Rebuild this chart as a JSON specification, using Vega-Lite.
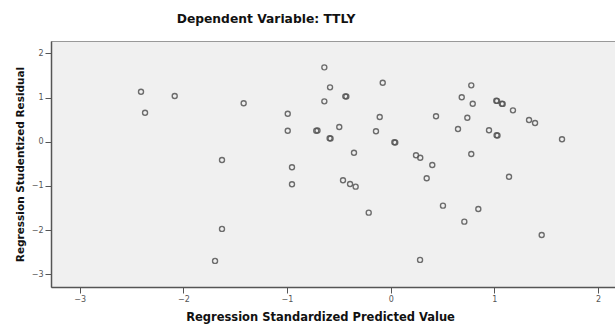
{
  "$schema": "https://vega.github.io/schema/vega-lite/v6.json",
  "autosize": "none",
  "padding": {"left": 51, "top": 41, "right": 0, "bottom": 38},
  "width": 564,
  "height": 246,
  "background": "white",
  "title": {
    "text": "Dependent Variable: TTLY",
    "font": "DejaVu Sans",
    "fontSize": 12.3,
    "fontWeight": "bold",
    "color": "#111",
    "anchor": "middle",
    "dx": -67,
    "offset": 6,
    "baseline": "alphabetic"
  },
  "config": {
    "view": {"fill": "#f0f0f0", "stroke": "#999", "strokeWidth": 1},
    "axis": {
      "grid": false,
      "domainColor": "#555",
      "domainWidth": 1.5,
      "tickColor": "#555",
      "tickWidth": 1,
      "tickSize": 6,
      "labelFont": "DejaVu Sans",
      "labelFontSize": 8,
      "labelColor": "#555",
      "titleFont": "DejaVu Sans",
      "titleFontSize": 11.5,
      "titleFontWeight": "bold",
      "titleColor": "#111"
    }
  },
  "data": {
    "values": [
      {"x": -2.408, "y": 1.131},
      {"x": -2.369, "y": 0.656},
      {"x": -2.083, "y": 1.034},
      {"x": -1.418, "y": 0.869},
      {"x": -0.993, "y": 0.633},
      {"x": -0.993, "y": 0.249},
      {"x": -0.718, "y": 0.249},
      {"x": -0.706, "y": 0.252},
      {"x": -1.627, "y": -0.414},
      {"x": -0.952, "y": -0.579},
      {"x": -0.952, "y": -0.964},
      {"x": -0.640, "y": 1.683},
      {"x": -0.585, "y": 1.231},
      {"x": -0.438, "y": 1.027},
      {"x": -0.428, "y": 1.024},
      {"x": -0.640, "y": 0.914},
      {"x": -0.077, "y": 1.335},
      {"x": -0.106, "y": 0.559},
      {"x": -0.496, "y": 0.333},
      {"x": -0.589, "y": 0.077},
      {"x": -0.580, "y": 0.072},
      {"x": -0.142, "y": 0.235},
      {"x": 0.035, "y": -0.014},
      {"x": 0.044, "y": -0.018},
      {"x": -0.354, "y": -0.249},
      {"x": 0.244, "y": -0.308},
      {"x": 0.285, "y": -0.362},
      {"x": 0.401, "y": -0.527},
      {"x": 0.347, "y": -0.828},
      {"x": -0.460, "y": -0.873},
      {"x": -0.392, "y": -0.957},
      {"x": -0.338, "y": -1.018},
      {"x": 0.437, "y": 0.575},
      {"x": 0.777, "y": 1.276},
      {"x": 0.685, "y": 1.005},
      {"x": 0.791, "y": 0.860},
      {"x": 0.739, "y": 0.543},
      {"x": 0.649, "y": 0.287},
      {"x": 0.948, "y": 0.258},
      {"x": 1.021, "y": 0.145},
      {"x": 1.030, "y": 0.141},
      {"x": 1.018, "y": 0.928},
      {"x": 1.026, "y": 0.924},
      {"x": 1.072, "y": 0.860},
      {"x": 1.080, "y": 0.856},
      {"x": 1.179, "y": 0.710},
      {"x": 1.334, "y": 0.491},
      {"x": 1.392, "y": 0.423},
      {"x": 1.652, "y": 0.054},
      {"x": 0.777, "y": -0.278},
      {"x": 1.141, "y": -0.792},
      {"x": -0.212, "y": -1.606},
      {"x": 0.504, "y": -1.448},
      {"x": 0.845, "y": -1.523},
      {"x": 0.710, "y": -1.810},
      {"x": 1.456, "y": -2.111},
      {"x": 0.283, "y": -2.676},
      {"x": -1.627, "y": -1.975},
      {"x": -1.694, "y": -2.699}
    ]
  },
  "mark": {"type": "point", "shape": "circle", "filled": false, "stroke": "#555", "strokeWidth": 1.4, "size": 25, "opacity": 0.85},
  "encoding": {
    "x": {
      "field": "x",
      "type": "quantitative",
      "scale": {"domain": [-3.276, 2.163], "nice": false, "zero": false},
      "axis": {
        "values": [-3, -2, -1, 0, 1, 2],
        "title": "Regression Standardized Predicted Value",
        "titleX": 269,
        "titleY": 33,
        "titleBaseline": "alphabetic",
        "labelPadding": 2
      }
    },
    "y": {
      "field": "y",
      "type": "quantitative",
      "scale": {"domain": [-3.29, 2.28], "nice": false, "zero": false},
      "axis": {
        "values": [-3, -2, -1, 0, 1, 2],
        "title": "Regression Studentized Residual",
        "titleX": -28,
        "titleY": 123,
        "titleAngle": -90,
        "titleAlign": "center",
        "titleBaseline": "alphabetic",
        "titleFontSize": 10.5,
        "labelPadding": 2
      }
    }
  }
}
